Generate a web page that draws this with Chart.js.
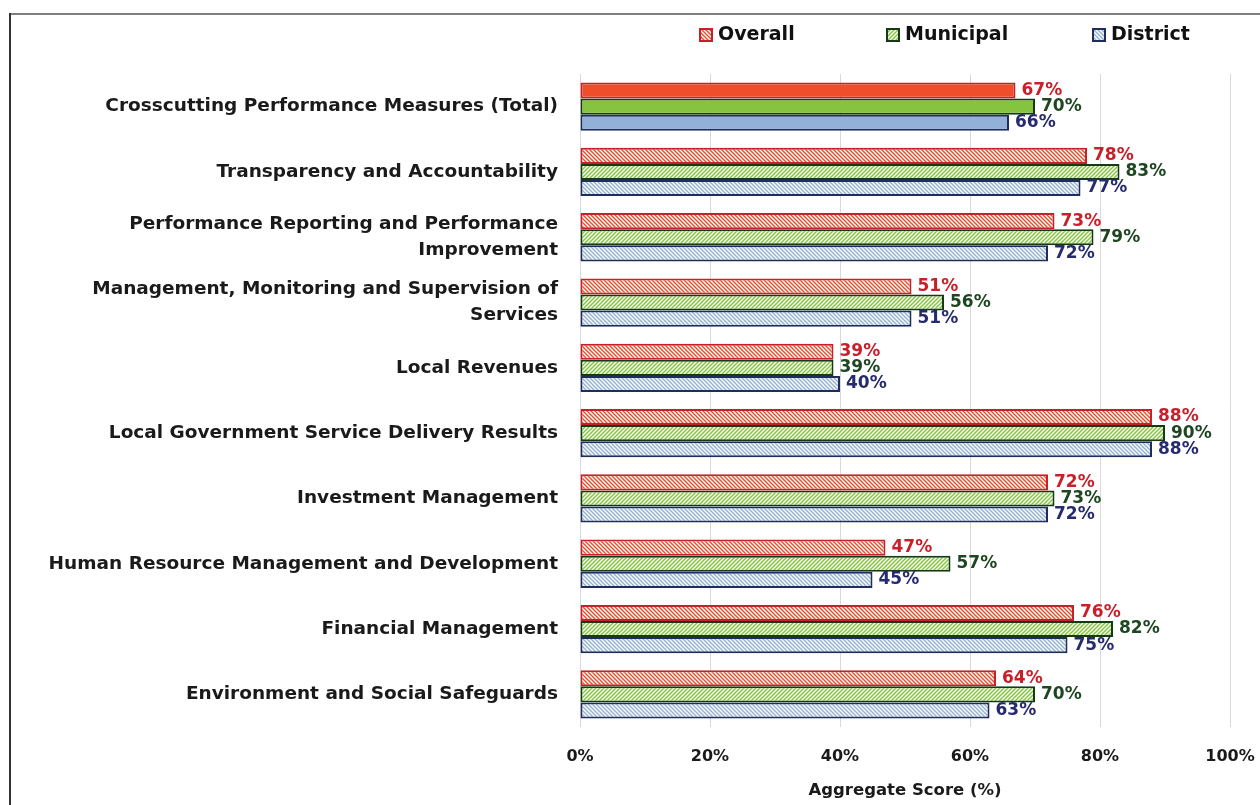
<!DOCTYPE html>
<html>
<head>
<meta charset="utf-8">
<script src="https://cdn.jsdelivr.net/npm/chart.js@4.4.1/dist/chart.umd.min.js"></script>
<style>
  html, body { margin: 0; padding: 0; background: #fff; }
  #wrap { width: 1260px; height: 805px; position: relative; }
</style>
</head>
<body>
<div id="wrap"><canvas id="chart" width="1260" height="805"></canvas></div>
<script>
const categories = [
  "Crosscutting Performance Measures (Total)",
  "Transparency and Accountability",
  ["Performance Reporting and Performance", "Improvement"],
  ["Management, Monitoring and Supervision of", "Services"],
  "Local Revenues",
  "Local Government Service Delivery Results",
  "Investment Management",
  "Human Resource Management and Development",
  "Financial Management",
  "Environment and Social Safeguards",
];
const overall = [67, 78, 73, 51, 39, 88, 72, 47, 76, 64];
const municipal = [70, 83, 79, 56, 39, 90, 73, 57, 82, 70];
const district = [66, 77, 72, 51, 40, 88, 72, 45, 75, 63];
const seriesNames = ["Overall", "Municipal", "District"];
const xTicks = [0, 20, 40, 60, 80, 100];

const FONT = "'DejaVu Sans', 'Open Sans', sans-serif";

// diagonal hatch fill, dir 1 = "/" and -1 = "\"
function hatch(color, dir) {
  const s = 4;
  const c = document.createElement("canvas");
  c.width = c.height = s;
  const x = c.getContext("2d");
  x.fillStyle = "#fff";
  x.fillRect(0, 0, s, s);
  x.strokeStyle = color;
  x.lineWidth = 1.5;
  x.beginPath();
  if (dir > 0) {
    x.moveTo(0, s); x.lineTo(s, 0);
    x.moveTo(-1, 1); x.lineTo(1, -1);
    x.moveTo(s - 1, s + 1); x.lineTo(s + 1, s - 1);
  } else {
    x.moveTo(0, 0); x.lineTo(s, s);
    x.moveTo(-1, s - 1); x.lineTo(1, s + 1);
    x.moveTo(s - 1, -1); x.lineTo(s + 1, 1);
  }
  x.stroke();
  return x.createPattern(c, "repeat");
}

const fills = ["#f04e2b", "#86c440", "#92b0d8"];
const borders = ["#c8202a", "#163a16", "#1f2d5c"];
const labelColors = ["#c8202a", "#1e4620", "#262a6e"];
const patterns = [hatch(fills[0], -1), hatch(fills[1], 1), hatch(fills[2], -1)];

const makeSet = (i, data) => ({
  label: seriesNames[i],
  data,
  backgroundColor: (c) => (c.dataIndex === 0 ? fills[i] : patterns[i]),
  borderColor: borders[i],
  borderWidth: 2,
  borderSkipped: false,
  categoryPercentage: 0.74,
  barPercentage: 1.0,
});

// value labels at the bar ends
const barLabels = {
  id: "barLabels",
  afterDatasetsDraw(chart) {
    const ctx = chart.ctx;
    ctx.save();
    ctx.font = "bold 17px " + FONT;
    ctx.textBaseline = "middle";
    ctx.textAlign = "left";
    chart.data.datasets.forEach((ds, i) => {
      chart.getDatasetMeta(i).data.forEach((bar, j) => {
        ctx.fillStyle = labelColors[i];
        ctx.fillText(ds.data[j] + "%", bar.x + 6, bar.y);
      });
    });
    ctx.restore();
  },
};

// legend spread across the top right + frame lines
const topLegend = {
  id: "topLegend",
  afterDraw(chart) {
    const ctx = chart.ctx;
    ctx.save();
    ctx.fillStyle = "#7f7f7f";
    ctx.fillRect(9, 13, 1260, 2);
    ctx.fillStyle = "#333";
    ctx.fillRect(9, 13, 2, 800);

    const xs = [700, 887, 1093];
    ctx.font = "bold 19px " + FONT;
    ctx.textBaseline = "middle";
    ctx.textAlign = "left";
    xs.forEach((x, i) => {
      ctx.fillStyle = patterns[i];
      ctx.fillRect(x, 29, 12, 12);
      ctx.strokeStyle = borders[i];
      ctx.lineWidth = 2;
      ctx.strokeRect(x, 29, 12, 12);
      ctx.fillStyle = "#111";
      ctx.fillText(seriesNames[i], x + 18, 35);
    });
    ctx.restore();
  },
};

new Chart(document.getElementById("chart"), {
  type: "bar",
  data: {
    labels: categories,
    datasets: [makeSet(0, overall), makeSet(1, municipal), makeSet(2, district)],
  },
  options: {
    indexAxis: "y",
    responsive: false,
    animation: false,
    layout: { padding: { top: 74, right: 30, bottom: 0, left: 0 } },
    plugins: {
      legend: { display: false },
      tooltip: { enabled: false },
    },
    scales: {
      x: {
        min: 0,
        max: 100,
        afterBuildTicks: (axis) => { axis.ticks = xTicks.map((v) => ({ value: v })); },
        grid: { color: "#d9d9d9", lineWidth: 1, drawTicks: false },
        border: { display: false },
        ticks: {
          padding: 20,
          color: "#1a1a1a",
          font: { family: FONT, size: 16, weight: "bold" },
          callback: (v) => v + "%",
        },
        title: {
          display: true,
          text: "Aggregate Score (%)",
          color: "#1a1a1a",
          font: { family: FONT, size: 16.5, weight: "bold" },
          padding: { top: 4, bottom: 4 },
        },
        afterFit: (axis) => {
          axis.height = 78;
          axis.paddingLeft = 0;
          axis.paddingRight = 0;
        },
      },
      y: {
        grid: { display: false, drawTicks: false },
        border: { display: false },
        ticks: {
          padding: 22,
          color: "#1a1a1a",
          font: { family: FONT, size: 18.5, weight: "bold", lineHeight: 1.42 },
        },
        afterFit: (axis) => { axis.width = 580; },
      },
    },
  },
  plugins: [barLabels, topLegend],
});
</script>
</body>
</html>
